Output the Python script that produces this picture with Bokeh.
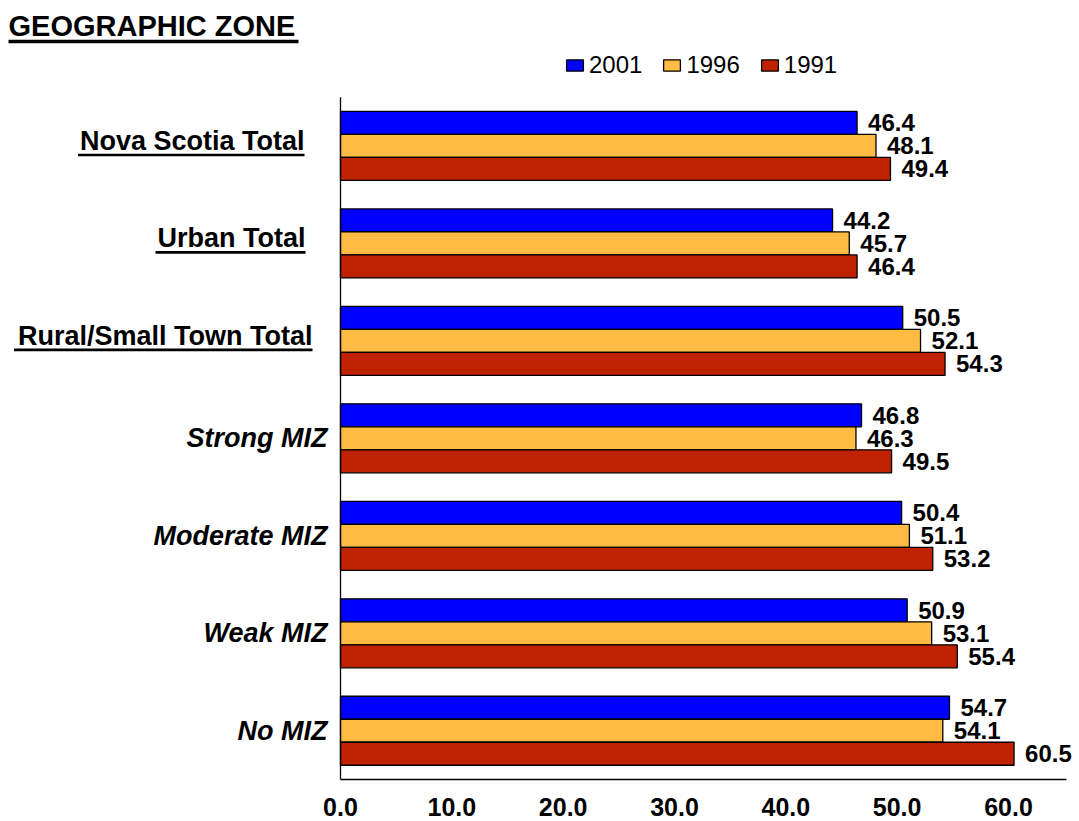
from bokeh.plotting import figure
from bokeh.models import (ColumnDataSource, Range1d, FixedTicker, NumeralTickFormatter,
                          Legend, LegendItem)
from bokeh.core.properties import value
from bokeh.embed import file_html
from bokeh.resources import INLINE

# ---------------- data ----------------
categories = ["Nova Scotia Total", "Urban Total", "Rural/Small Town Total",
              "Strong MIZ", "Moderate MIZ", "Weak MIZ", "No MIZ"]
underlined = [True, True, True, False, False, False, False]
series_names = ["2001", "1996", "1991"]
values_2001 = [46.4, 44.2, 50.5, 46.8, 50.4, 50.9, 54.7]
values_1996 = [48.1, 45.7, 52.1, 46.3, 51.1, 53.1, 54.1]
values_1991 = [49.4, 46.4, 54.3, 49.5, 53.2, 55.4, 60.5]
x_ticks = [0, 10, 20, 30, 40, 50, 60]
title_text = "GEOGRAPHIC ZONE"

# ---------------- style / layout ----------------
FONT = "Liberation Sans"
COLORS = ["#0000FF", "#FFBB44", "#BF2200"]
W, H = 1079, 821
BORDER_BOTTOM = 40
PX_PER_X = 11.133           # pixels per x unit
PX_PER_CAT = 97.47          # pixels per category slot
X0_PAGE = 340               # page x of value 0
FRAME_LEFT_PAGE = 0
AXIS_Y_PAGE = 779           # page y of category axis bottom
FRAME_TOP_PAGE = 0
FRAME_BOTTOM_PAGE = FRAME_TOP_PAGE + H - BORDER_BOTTOM
LABEL_RIGHT_PAD = [36, 35, 28]   # px gap between underlined labels and the axis


def dx(px):
    return px / PX_PER_X


def dy(px):
    return px / PX_PER_CAT


def y_of_page(py):
    return (AXIS_Y_PAGE - py) / PX_PER_CAT


x_start = (FRAME_LEFT_PAGE - X0_PAGE) / PX_PER_X
x_end = x_start + W / PX_PER_X
y_start = -(FRAME_BOTTOM_PAGE - AXIS_Y_PAGE) / PX_PER_CAT
y_end = (AXIS_Y_PAGE - FRAME_TOP_PAGE) / PX_PER_CAT

n = len(categories)
centers = [n - 0.5 - i for i in range(n)]
bar_h = dy(23)
offsets = [bar_h, 0.0, -bar_h]
all_values = [values_2001, values_1996, values_1991]

p = figure(width=W, height=H, output_backend="svg", toolbar_location=None,
           x_range=Range1d(x_start, x_end), y_range=Range1d(y_start, y_end),
           min_border_left=0, min_border_right=0, min_border_top=0,
           min_border_bottom=BORDER_BOTTOM, y_axis_location=None)
p.outline_line_color = None
p.xgrid.visible = False
p.ygrid.visible = False
p.background_fill_color = "white"
p.border_fill_color = "white"

# bottom axis (labels only; line drawn separately so it starts at 0)
ax = p.xaxis[0]
ax.ticker = FixedTicker(ticks=x_ticks)
ax.formatter = NumeralTickFormatter(format="0.0")
ax.axis_line_color = None
ax.major_tick_line_color = None
ax.minor_tick_line_color = None
ax.major_tick_out = 0
ax.major_label_standoff = 16
ax.major_label_text_font = FONT
ax.major_label_text_font_size = "25px"
ax.major_label_text_font_style = "bold"
ax.major_label_text_color = "black"

renderers = []
for vals, off, col in zip(all_values, offsets, COLORS):
    src = ColumnDataSource(dict(y=[c + off for c in centers], right=vals,
                                lab=[f"{v:.1f}" for v in vals]))
    r = p.hbar(y="y", right="right", left=0, height=bar_h, source=src,
               fill_color=col, line_color="black", line_width=1.3)
    renderers.append(r)
    p.text(x="right", y="y", text="lab", source=src, x_offset=11,
           text_align="left", text_baseline="middle", text_font=value(FONT),
           text_font_size="24px", text_font_style="bold", text_color="black")

# axis lines
p.segment(x0=[0, 0], y0=[0, 0], x1=[0, dx(1066 - X0_PAGE)], y1=[n, 0],
          line_color="black", line_width=1.3)

# category labels
ARIAL_BOLD = {'N': 722, 'o': 611, 'v': 556, 'a': 556, 'S': 667, 'c': 556, 't': 333,
              'i': 278, 'T': 611, 'l': 278, 'U': 722, 'r': 389, 'b': 611, 'n': 611,
              'R': 722, 'u': 611, '/': 278, 'm': 889, 'w': 778, ' ': 278}
CAT_FS = 27
ul_x, ul_y, ul_x1, ul_y1 = [], [], [], []
k = 0
for cat, c, ul in zip(categories, centers, underlined):
    if ul:
        right = -dx(LABEL_RIGHT_PAD[k])
        k += 1
        p.text(x=[right], y=[c + dy(5)], text=[cat], text_align="right",
               text_baseline="middle", text_font=value(FONT),
               text_font_size=f"{CAT_FS}px", text_font_style="bold",
               text_color="black")
        wpx = sum(ARIAL_BOLD.get(ch, 600) for ch in cat) * CAT_FS / 1000.0
        ul_x.append(right - dx(wpx))
        ul_x1.append(right)
        ul_y.append(c - dy(9))
        ul_y1.append(c - dy(9))
    else:
        p.text(x=[-dx(13)], y=[c], text=[cat], text_align="right",
               text_baseline="middle", text_font=value(FONT),
               text_font_size=f"{CAT_FS}px", text_font_style="bold italic",
               text_color="black")
p.segment(x0=ul_x, y0=ul_y, x1=ul_x1, y1=ul_y1, line_color="black", line_width=2.6)

# title
p.text(x=[x_start + dx(8)], y=[y_of_page(25)], text=[title_text], text_align="left",
       text_baseline="middle", text_font=value(FONT), text_font_size="29px",
       text_font_style="bold", text_color="black")
p.segment(x0=[x_start + dx(8)], y0=[y_of_page(41)], x1=[x_start + dx(298)], y1=[y_of_page(41)],
          line_color="black", line_width=3.5)

# legend
legend = Legend(items=[LegendItem(label=nm, renderers=[r]) for nm, r in zip(series_names, renderers)],
                orientation="horizontal", location=(564, 702),
                border_line_color=None, background_fill_alpha=0,
                padding=0, margin=0, spacing=19, label_standoff=4,
                glyph_width=21, glyph_height=14, label_height=24,
                label_text_font=FONT, label_text_font_size="24px",
                label_text_color="black")
p.add_layout(legend, "center")

open("out.html", "w").write(file_html(p, INLINE))
